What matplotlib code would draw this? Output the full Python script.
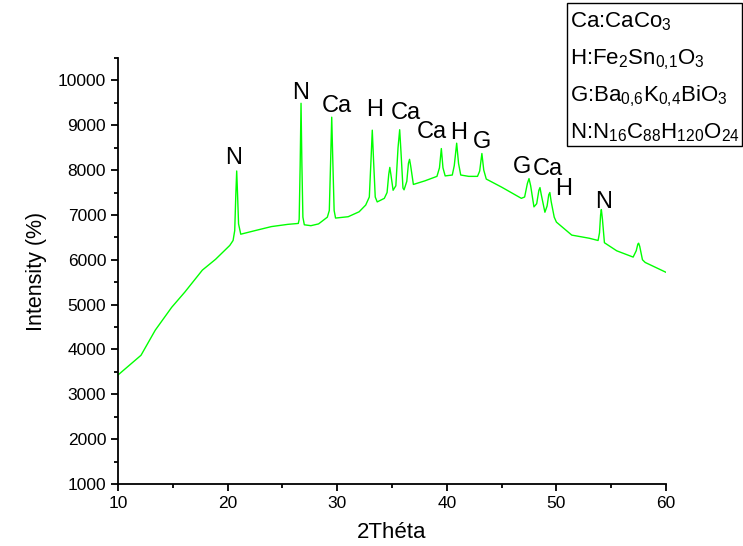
import matplotlib
matplotlib.use("Agg")
import matplotlib.pyplot as plt
from matplotlib.patches import Rectangle
from matplotlib.ticker import MultipleLocator

plt.rcParams["font.family"] = ["Liberation Sans", "DejaVu Sans"]
plt.rcParams["mathtext.default"] = "regular"

# XRD pattern
two_theta = [10.0, 12.1, 13.4, 14.9, 16.1, 17.7, 18.9, 20.2, 20.5,
             20.65, 20.75, 20.83, 20.91, 21.0, 21.2, 22.5, 24.0, 25.5, 26.45,
             26.53, 26.62, 26.7, 26.78, 26.87, 27.0, 27.6, 28.3, 29.1,
             29.28, 29.4, 29.5, 29.6, 29.72, 29.85, 31.0, 32.0, 32.6,
             32.93, 33.08, 33.2, 33.32, 33.47, 33.65, 34.3,
             34.55, 34.7, 34.8, 34.9, 35.1,
             35.35, 35.55, 35.7, 35.82, 36.0, 36.1,
             36.35, 36.5, 36.6, 36.7, 36.95, 38.0, 39.1,
             39.33, 39.5, 39.65, 39.85, 40.5,
             40.68, 40.9, 41.07, 41.27, 42.0, 42.8,
             43.0, 43.2, 43.37, 43.6, 45.0, 46.8,
             47.1, 47.35, 47.5, 47.65, 47.95,
             48.2, 48.4, 48.5, 48.62, 48.95,
             49.15, 49.3, 49.4, 49.52, 49.8, 50.0, 51.4, 53.0, 53.8,
             53.93, 54.03, 54.1, 54.2, 54.38, 55.5, 57.0,
             57.28, 57.43, 57.5, 57.6, 57.85, 58.1, 60.0]
intensity = [3430, 3870, 4430, 4940, 5280, 5770, 6010, 6320, 6430,
             6650, 7450, 7980, 7450, 6800, 6570, 6650, 6740, 6790, 6810,
             6900, 8100, 9490, 8100, 6950, 6780, 6760, 6800, 6950,
             7100, 8200, 9180, 8200, 7100, 6930, 6960, 7070, 7220,
             7400, 8200, 8890, 8200, 7400, 7290, 7370,
             7500, 7900, 8060, 7900, 7550,
             7650, 8500, 8900, 8400, 7600, 7560,
             7750, 8150, 8240, 8100, 7680, 7760, 7860,
             8050, 8480, 8050, 7870, 7890,
             8100, 8600, 8150, 7890, 7860, 7860,
             7980, 8370, 8000, 7800, 7620, 7370,
             7400, 7700, 7810, 7650, 7180,
             7250, 7550, 7610, 7450, 7060,
             7200, 7450, 7500, 7300, 6950, 6840, 6550, 6480, 6430,
             6600, 7000, 7120, 6900, 6380, 6200, 6060,
             6200, 6350, 6370, 6300, 6000, 5940, 5720]

# phase labels above the peaks (text, x, y)
peak_labels = ["N", "N", "Ca", "H", "Ca", "Ca", "H", "G", "G", "Ca", "H", "N"]
label_x = [20.5, 26.7, 30.0, 33.4, 36.3, 38.65, 41.1, 43.2, 46.86, 49.2, 50.7, 54.34]
label_y = [8280, 9730, 9420, 9330, 9280, 8840, 8820, 8620, 8080, 8015, 7570, 7280]

legend_lines = ["Ca:CaCo$_3$",
                "H:Fe$_2$Sn$_{0{,}1}$O$_3$",
                "G:Ba$_{0{,}6}$K$_{0{,}4}$BiO$_3$",
                "N:N$_{16}$C$_{88}$H$_{120}$O$_{24}$"]

fig = plt.figure(figsize=(7.43, 5.46), dpi=100)
ax = fig.add_axes([0.1588, 0.1136, 0.7376, 0.7802])

ax.plot(two_theta, intensity, color="#00ff00", lw=1.0)

for txt, x, y in zip(peak_labels, label_x, label_y):
    ax.text(x, y, txt, fontsize=17, ha="center", va="center")

ax.set_xlim(10, 60)
ax.set_ylim(1000, 10500)
ax.xaxis.set_major_locator(MultipleLocator(10))
ax.xaxis.set_minor_locator(MultipleLocator(5))
ax.yaxis.set_major_locator(MultipleLocator(1000))
ax.yaxis.set_minor_locator(MultipleLocator(500))
ax.spines["top"].set_visible(False)
ax.spines["right"].set_visible(False)
for s in ["left", "bottom"]:
    ax.spines[s].set_linewidth(1.3)
ax.tick_params(which="major", direction="out", length=5, width=1.3, labelsize=12.5)
ax.tick_params(which="minor", direction="out", length=3, width=1.3)
ax.set_xlabel("2Théta", fontsize=16, labelpad=8)
ax.set_ylabel("Intensity (%)", fontsize=15.5, labelpad=8)

# legend box in the top right corner
fig.patches.append(Rectangle((567 / 743, 1 - 146 / 546), 175 / 743, 143 / 546,
                             transform=fig.transFigure, fill=False,
                             edgecolor="black", lw=1.0))
for i, line in enumerate(legend_lines):
    fig.text(570 / 743, 1 - (27 + 37 * i) / 546, line, fontsize=16,
             ha="left", va="baseline")

fig.savefig("out.png", dpi=100)
